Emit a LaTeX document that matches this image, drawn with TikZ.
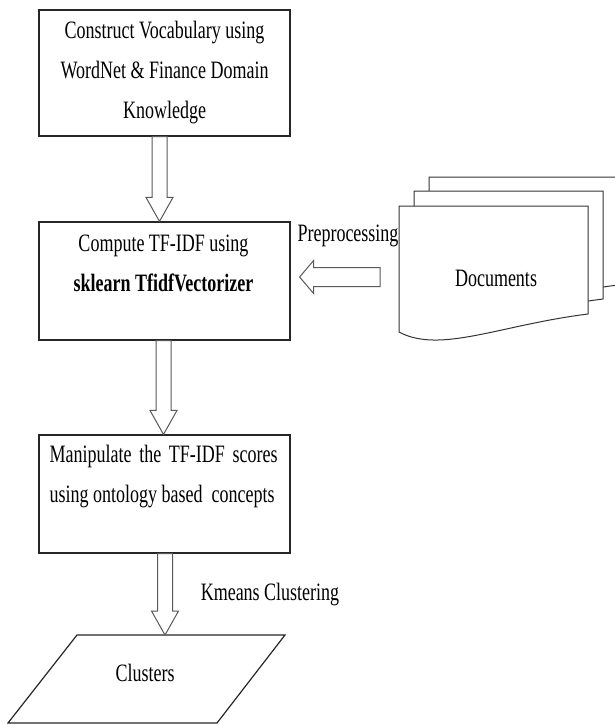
\documentclass[tikz,border=0pt]{standalone}
\usepackage{fontspec}
\setmainfont[FakeStretch=0.72]{Liberation Serif}
\usetikzlibrary{calc}

\tikzset{
  box/.style={draw=black!85, line width=1.2pt, minimum width=251pt, inner sep=0pt},
  txt/.style={inner sep=0pt, font=\fontsize{25}{40}\selectfont, align=center},
  blockarrow/.style={draw=black!65, line width=1pt, fill=white, line join=miter},
  page/.style={draw=black!80, line width=1pt, fill=white},
}

% vertical block arrow from anchor #1 down to tip #2, shifted by #3 (pt)
\newcommand\vblock[3]{%
  \draw[blockarrow] let \p1=(#1), \p2=(#2) in
    (\x1+#3pt-7.5pt,\y1) -- (\x1+#3pt-7.5pt,\y2+24pt) -- (\x1+#3pt-13.5pt,\y2+24pt)
    -- (\x1+#3pt,\y2) -- (\x1+#3pt+13.5pt,\y2+24pt) -- (\x1+#3pt+7.5pt,\y2+24pt)
    -- (\x1+#3pt+7.5pt,\y1) -- cycle;}

% one sheet of the document stack, shifted by (#1,#2)
\newcommand\docpage[2]{%
  \filldraw[page, shift={(#1pt,#2pt)}] (399,-206) -- (588,-206) -- (588,-314)
    .. controls (500,-325) and (440,-354) .. (399,-332) -- cycle;}

\begin{document}
\begin{tikzpicture}[x=1pt, y=1pt]
\useasboundingbox (0,0) rectangle (615,-725);
\clip (0,0) rectangle (615,-725);

% process boxes
\node[box, minimum height=126pt] (b1) at (164.5,-73) {};
\node[box, minimum height=118pt] (b2) at (164.5,-281) {};
\node[box, minimum height=118pt] (b3) at (164.5,-494) {};

\node[txt] (t1) at (b1.center) {Construct Vocabulary using\\WordNet \& Finance Domain\\Knowledge};
\node[txt] (t2) at ($(b2.north)+(-1,-42)$) {Compute TF-IDF using\\\textbf{sklearn TfidfVectorizer}};
\node[txt, align=left, anchor=west] (t3) at ($(b3.north west)+(11,-42.5)$)
  {\hbox to 228pt{Manipulate\hfill the\hfill TF-IDF\hfill scores}\\using ontology based\ \ concepts};

% output parallelogram
\coordinate (ptl) at (77,-635);
\coordinate (ptr) at (285,-635);
\coordinate (pbr) at (217,-723);
\coordinate (pbl) at (8,-723);
\draw[black!85, line width=1.2pt, line join=miter] (ptl) -- (ptr) -- (pbr) -- (pbl) -- cycle;
\coordinate (ctop) at (165,-635);
\node[txt] (clusters) at (145,-673) {Clusters};

% document stack
\docpage{30}{29}
\docpage{15}{15}
\docpage{0}{0}
\node[txt] (docs) at (496,-278) {Documents};
\coordinate (dleft) at (399,-277);

% block arrows
\vblock{b1.south}{b2.north}{-5}
\vblock{b2.south}{b3.north}{-1}
\vblock{b3.south}{ctop}{0.5}

\draw[blockarrow] let \p1=(dleft), \p2=(b2.east) in
  (\x1-19pt,\y1-9.5pt) -- (\x2+23pt,\y1-9.5pt) -- (\x2+23pt,\y1-16.5pt)
  -- (\x2+9pt,\y1) -- (\x2+23pt,\y1+16.5pt) -- (\x2+23pt,\y1+9.5pt)
  -- (\x1-19pt,\y1+9.5pt) -- cycle;

% labels
\node[txt] (lpre) at (348,-236) {Preprocessing};
\node[txt] (lkm) at (270,-595) {Kmeans Clustering};

\end{tikzpicture}
\end{document}
